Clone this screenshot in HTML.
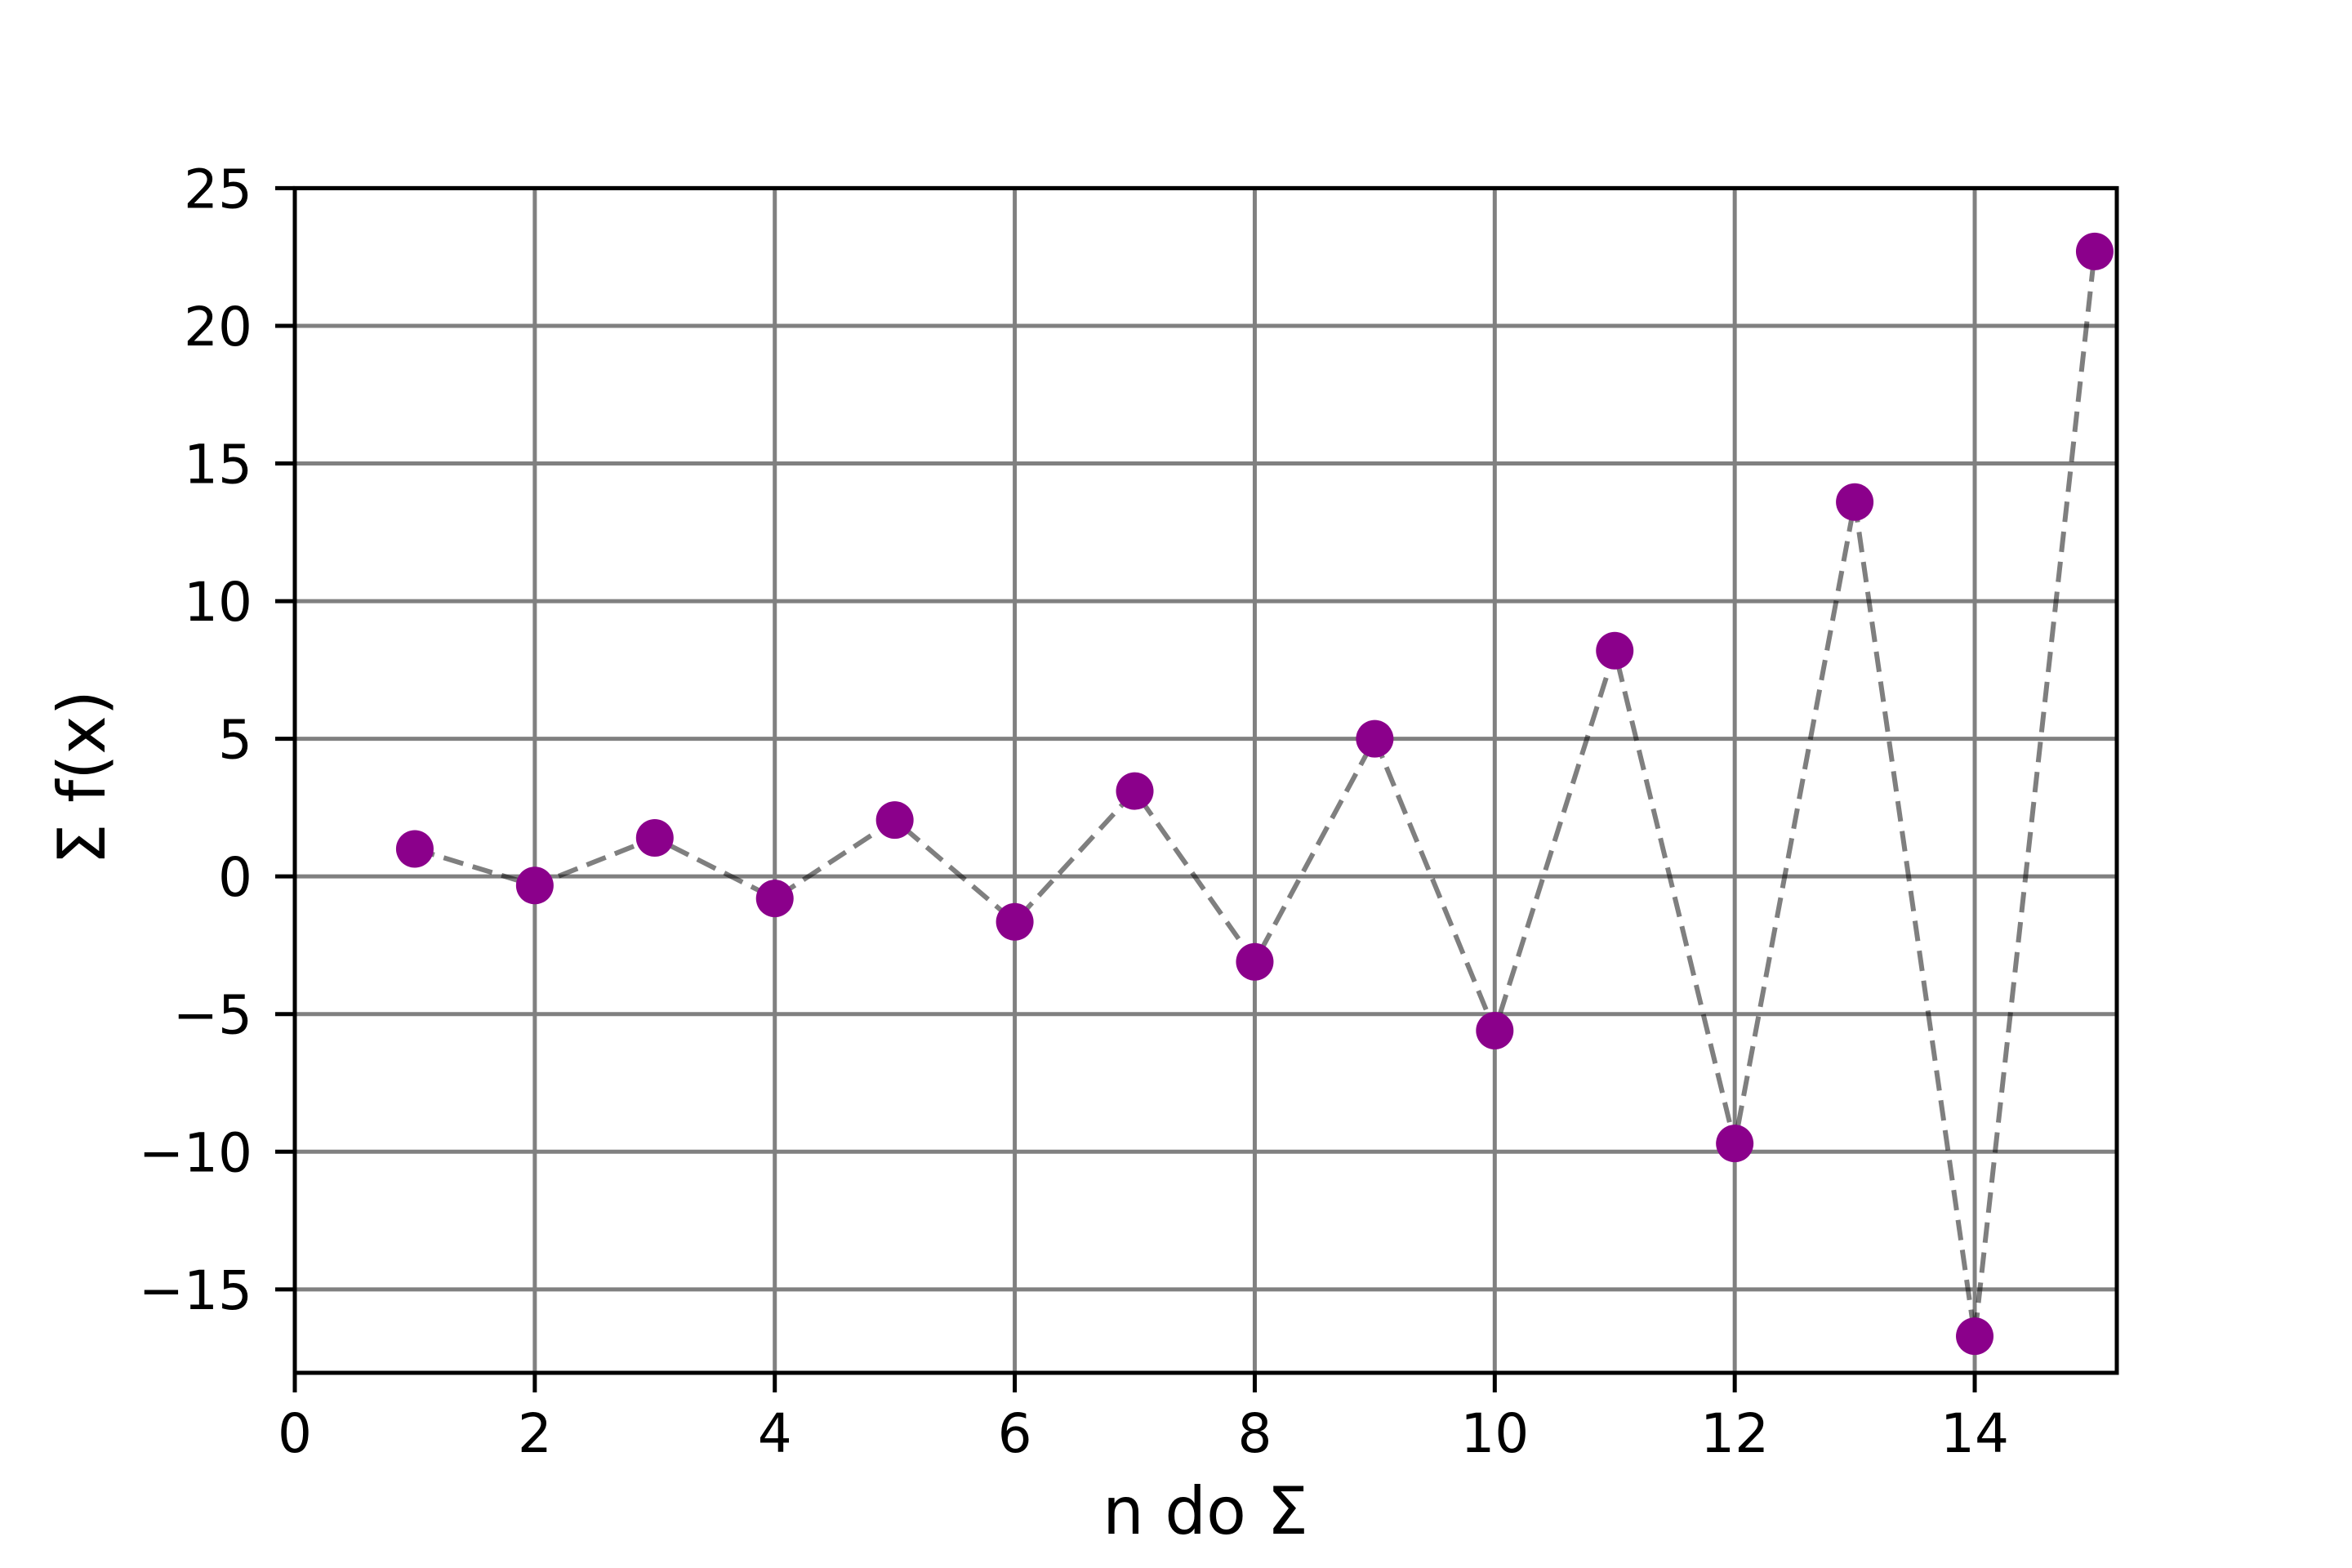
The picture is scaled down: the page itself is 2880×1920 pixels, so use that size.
<!DOCTYPE html>
<html><head><meta charset="utf-8"><style>html,body{margin:0;padding:0;background:#fff}svg{display:block}text{font-family:"DejaVu Sans","Liberation Sans",sans-serif}</style></head>
<body>
<svg id="chart" width="2880" height="1920" xmlns="http://www.w3.org/2000/svg">
<rect width="2880" height="1920" fill="#fff"/>
<g id="grid"></g>
<g id="series"></g>
<rect x="361" y="230.4" width="2231" height="1450.6" fill="none" stroke="#000" stroke-width="5"/>
<g id="ticks"></g>
<text x="1476" y="1878" font-size="80" text-anchor="middle">n do Σ</text>
<text transform="translate(128,952) rotate(-90)" font-size="80" text-anchor="middle">Σ f(x)</text>
</svg>
<script>
const xValues = [1,2,3,4,5,6,7,8,9,10,11,12,13,14,15];
const yValues = [1.0,-0.33,1.4,-0.8,2.05,-1.65,3.1,-3.1,5.0,-5.6,8.2,-9.7,13.6,-16.7,22.7];
const xTicks = [0,2,4,6,8,10,12,14];
const yTicks = [-15,-10,-5,0,5,10,15,20,25];
const yTickLabels = ["\u221215","\u221210","\u22125","0","5","10","15","20","25"];
const X0=361,X1=2592,Y0=1681,Y1=230.4;
const xmin=0,xmax=15.184,ymin=-18.03,ymax=25;
function sx(v){return X0+(v-xmin)/(xmax-xmin)*(X1-X0);}
function sy(v){return Y0-(v-ymin)/(ymax-ymin)*(Y0-Y1);}
const NS="http://www.w3.org/2000/svg";
function mk(tag,attrs,parent){const e=document.createElementNS(NS,tag);for(const k in attrs)e.setAttribute(k,attrs[k]);parent.appendChild(e);return e;}
const grid=document.getElementById('grid'),ticks=document.getElementById('ticks'),series=document.getElementById('series');
xTicks.forEach(t=>{
  const x=sx(t);
  const g=mk('line',{x1:x,x2:x,y1:Y1,y2:Y0,stroke:'#808080','stroke-width':5},grid);
  
  
  const tk=mk('line',{x1:x,x2:x,y1:Y0,y2:Y0+24,stroke:'#000','stroke-width':5},ticks);
  
  
  const lb=mk('text',{x:x,y:1778,'font-size':66,'text-anchor':'middle'},ticks);
  lb.textContent=String(t);
  
  
});
yTicks.forEach((t,i)=>{
  const y=sy(t);
  const g=mk('line',{x1:X0,x2:X1,y1:y,y2:y,stroke:'#808080','stroke-width':5},grid);
  
  
  const tk=mk('line',{x1:X0-24,x2:X0,y1:y,y2:y,stroke:'#000','stroke-width':5},ticks);
  
  
  const lb=mk('text',{x:309,y:y+24,'font-size':66,'text-anchor':'end'},ticks);
  lb.textContent=yTickLabels[i];
  
  
});
const pts=xValues.map((v,i)=>sx(v)+','+sy(yValues[i])).join(' ');
const line=mk('polyline',{points:pts,fill:'none',stroke:'#000','stroke-opacity':0.5,'stroke-width':6,'stroke-dasharray':'25,12'},series);


xValues.forEach((v,i)=>{
  const c=mk('circle',{cx:sx(v),cy:sy(yValues[i]),r:23,fill:'#8b008b'},series);
  
  
});
</script>
</body></html>
